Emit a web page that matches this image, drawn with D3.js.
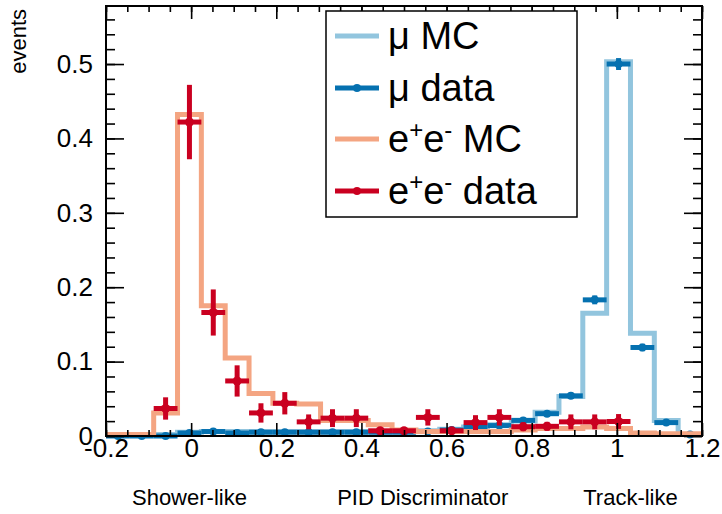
<!DOCTYPE html>
<html><head><meta charset="utf-8">
<script src="https://cdn.jsdelivr.net/npm/d3@7"></script>
<style>body{margin:0;background:#fff} svg{display:block} text{font-family:"Liberation Sans",Arial,sans-serif;fill:#000}</style>
</head><body><svg id="c" width="722" height="514"></svg>
<script>
// ---- data ----
const binCenters = [-0.172,-0.116,-0.060,-0.004,0.052,0.108,0.164,0.220,0.276,0.332,0.388,0.444,0.500,0.556,0.612,0.668,0.724,0.780,0.836,0.892,0.948,1.004,1.060,1.116,1.172];
const binWidth = 0.056;
const muMC   = [0.001,0.001,0.002,0.005,0.006,0.006,0.006,0.006,0.006,0.006,0.006,0.006,0.006,0.007,0.009,0.012,0.015,0.020,0.032,0.053,0.165,0.503,0.138,0.021,0.002];
const muData = [0.000,0.000,0.000,0.004,0.006,0.004,0.005,0.005,0.005,0.005,0.005,0.005,0.005,0.006,0.008,0.012,0.014,0.021,0.030,0.054,0.183,0.500,0.119,0.018,0.002];
const muErr  = [0.000,0.000,0.000,0.001,0.001,0.001,0.001,0.001,0.001,0.001,0.001,0.001,0.001,0.001,0.001,0.002,0.002,0.002,0.003,0.004,0.006,0.008,0.005,0.002,0.001];
const eeMC   = [0.002,0.002,0.031,0.432,0.175,0.105,0.057,0.044,0.043,0.021,0.021,0.015,0.008,0.006,0.006,0.006,0.006,0.008,0.010,0.010,0.012,0.010,0.004,0.003,0.003];
const eeData = [null,null,0.037,0.422,0.166,0.074,0.031,0.044,0.019,0.024,0.024,0.007,0.007,0.025,0.007,0.018,0.025,0.0125,0.013,0.019,0.019,0.0195,null,null,null];
const eeErr  = [null,null,0.015,0.050,0.031,0.021,0.013,0.015,0.010,0.012,0.012,0.004,0.004,0.011,0.004,0.010,0.011,0.006,0.006,0.010,0.010,0.010,null,null,null];
const xTicks = [-0.2,0,0.2,0.4,0.6,0.8,1,1.2];
const xTickLabels = ["-0.2","0","0.2","0.4","0.6","0.8","1","1.2"];
const yTicks = [0,0.1,0.2,0.3,0.4,0.5];
const yTickLabels = ["0","0.1","0.2","0.3","0.4","0.5"];
const xDomain = [-0.2,1.2];
const yDomain = [0,0.578];
const xSubLabels = [["Shower-like",-0.004],["PID Discriminator",0.544],["Track-like",1.032]];
const yTitle = "events";
const colors = {muMC:"#92c5de", muData:"#0571b0", eeMC:"#f4a582", eeData:"#ca0020"};

// ---- layout ----
const L=106,R=702,T=6,B=436;
const svg=d3.select("#c");
const x=d3.scaleLinear(xDomain,[L,R]);
const y=d3.scaleLinear(yDomain,[B,T]);

function stepPts(vals){
  const pts=[];
  binCenters.forEach((c,i)=>{pts.push([c-binWidth/2,vals[i]]);pts.push([c+binWidth/2,vals[i]]);});
  return pts;
}
const line=d3.line().x(d=>x(d[0])).y(d=>y(d[1]));
const g=svg.append("g");
function drawHist(vals,col){
  g.append("path").attr("d",line(stepPts(vals))).attr("fill","none")
   .attr("stroke",col).attr("stroke-width",5).attr("stroke-linejoin","miter").attr("stroke-linecap","butt");
}
function drawData(vals,errs,col,r){
  const dg=g.append("g");
  binCenters.forEach((c,i)=>{
    if(vals[i]===null) return;
    dg.append("line").attr("x1",x(c-binWidth/2)).attr("x2",x(c+binWidth/2))
      .attr("y1",y(vals[i])).attr("y2",y(vals[i])).attr("stroke",col).attr("stroke-width",5);
    if(errs[i]>0){
      dg.append("line").attr("x1",x(c)).attr("x2",x(c))
        .attr("y1",y(vals[i]-errs[i])).attr("y2",y(vals[i]+errs[i])).attr("stroke",col).attr("stroke-width",5);
    }
    dg.append("circle").attr("cx",x(c)).attr("cy",y(vals[i])).attr("r",r).attr("fill",col);
  });
}
drawHist(muMC,colors.muMC);
drawData(muData,muErr,colors.muData,4);
drawHist(eeMC,colors.eeMC);
drawData(eeData,eeErr,colors.eeData,4.5);

// ---- axes ----
const fs=26;
const xMinor=d3.range(-0.2,1.2001,0.05);
const yMinor=d3.range(0,0.5781,0.02);
function styleAxis(sel){sel.select(".domain").remove();sel.selectAll("line").attr("stroke","#000").attr("stroke-width",1.6);sel.selectAll("text").attr("font-size",fs).attr("fill","#000").attr("font-family","'Liberation Sans',Arial,sans-serif");}
svg.append("g").attr("transform",`translate(0,${B})`).call(d3.axisBottom(x).tickValues(xMinor).tickFormat("").tickSize(-6)).call(styleAxis);
svg.append("g").attr("transform",`translate(0,${B})`).call(d3.axisBottom(x).tickValues(xTicks).tickFormat((d,i)=>xTickLabels[i]).tickSize(-13).tickPadding(3)).call(styleAxis);
svg.append("g").attr("transform",`translate(0,${T})`).call(d3.axisTop(x).tickValues(xMinor).tickFormat("").tickSize(-6)).call(styleAxis);
svg.append("g").attr("transform",`translate(0,${T})`).call(d3.axisTop(x).tickValues(xTicks).tickFormat("").tickSize(-13)).call(styleAxis);
svg.append("g").attr("transform",`translate(${L},0)`).call(d3.axisLeft(y).tickValues(yMinor).tickFormat("").tickSize(-9)).call(styleAxis);
svg.append("g").attr("transform",`translate(${L},0)`).call(d3.axisLeft(y).tickValues(yTicks).tickFormat((d,i)=>yTickLabels[i]).tickSize(-18).tickPadding(13)).call(styleAxis);
svg.append("g").attr("transform",`translate(${R},0)`).call(d3.axisRight(y).tickValues(yMinor).tickFormat("").tickSize(-9)).call(styleAxis);
svg.append("g").attr("transform",`translate(${R},0)`).call(d3.axisRight(y).tickValues(yTicks).tickFormat("").tickSize(-18)).call(styleAxis);
svg.append("rect").attr("x",L).attr("y",T).attr("width",R-L).attr("height",B-T).attr("fill","none").attr("stroke","#000").attr("stroke-width",2);

// titles
svg.append("text").attr("transform",`translate(26,9) rotate(-90)`).attr("text-anchor","end").attr("font-size",22).text(yTitle);
xSubLabels.forEach(([t,v])=>svg.append("text").attr("x",x(v)).attr("y",505).attr("text-anchor","middle").attr("font-size",22).text(t));

// ---- legend ----
const lg=svg.append("g");
lg.append("rect").attr("x",326).attr("y",11).attr("width",251).attr("height",206).attr("fill","#fff").attr("stroke","#000").attr("stroke-width",1.5);
const entries=[
  {key:"muMC",t:[["μ MC",""]],dot:false},
  {key:"muData",t:[["μ data",""]],dot:true},
  {key:"eeMC",t:[["e",""],["+","sup"],["e",""],["-","sup"],[" MC",""]],dot:false},
  {key:"eeData",t:[["e",""],["+","sup"],["e",""],["-","sup"],[" data",""]],dot:true}
];
const ey=[36,88,139,191];
entries.forEach((e,i)=>{
  lg.append("line").attr("x1",335).attr("x2",379).attr("y1",ey[i]).attr("y2",ey[i]).attr("stroke",colors[e.key]).attr("stroke-width",5);
  if(e.dot) lg.append("circle").attr("cx",357).attr("cy",ey[i]).attr("r",4).attr("fill",colors[e.key]);
  const tx=lg.append("text").attr("x",388).attr("y",ey[i]+13).attr("font-size",38);
  e.t.forEach(([s,k],j)=>{
    const ts=tx.append("tspan").text(s);
    if(k==="sup") ts.attr("font-size",24).attr("dy",-14);
    else if(j>0 && e.t[j-1][1]==="sup") ts.attr("dy",14);
  });
});
</script></body></html>
